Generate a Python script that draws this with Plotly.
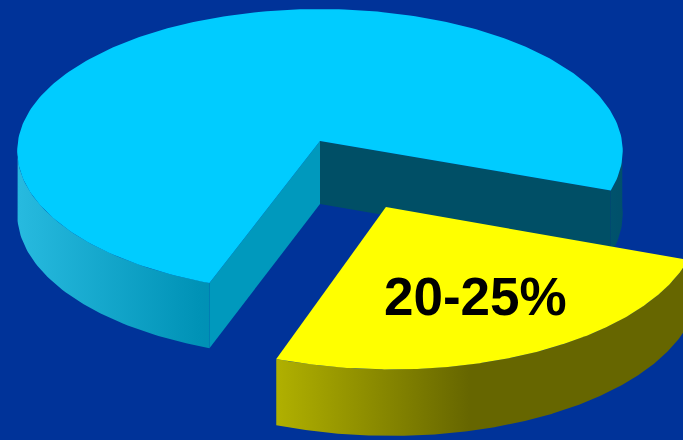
import numpy as np
import plotly.graph_objects as go

# ---- data ----
categories = ["Other", "Share"]
values = [75, 25]
labels = ["", "20-25%"]
explode = [0.0, 0.50]

# ---- styling / projection ----
BG = "#003399"
TOP_COLORS = ["#00CCFF", "#FFFF00"]
CUT_START_COLORS = ["#0099BD", "#999900"]
CUT_END_COLORS = ["#004F66", "#666600"]
SIDE_GRADIENTS = [
    dict(start=18, stop=625, colorscale=[[0, "#27BADF"], [0.3, "#0092B6"], [1, "#00506A"]]),
    dict(start=272, stop=683, colorscale=[[0, "#B2B200"], [0.48, "#666600"], [1, "#666600"]]),
]
CX, CY, RX, RY, K, H = 320, 141, 302, 141.2, 0.07, 63
START = 110.0  # degrees clockwise on screen


def proj(X, Z, down=False):
    s = 1.0 / (1.0 - K * Z)
    y = CY + RY * Z * s
    if down:
        y = y + H * np.sqrt(s)
    return CX + RX * X * s, y


fig = go.Figure()
total = float(sum(values))
angles = []
a = START
for v in values:
    span = 360.0 * v / total
    angles.append((a, a + span))
    a += span

text_items = []
for i, (a0, a1) in enumerate(angles):
    mid = np.radians((a0 + a1) / 2)
    ox, oz = explode[i] * np.cos(mid), explode[i] * np.sin(mid)
    th = np.radians(np.linspace(a0, a1, 240))
    X = ox + np.cos(th)
    Z = oz + np.sin(th)

    # visible rim segments (front-facing)
    vis = np.sin(th) >= -1e-9
    segs, cur = [], []
    for j in range(len(th)):
        if vis[j]:
            cur.append(j)
        elif cur:
            segs.append(cur)
            cur = []
    if cur:
        segs.append(cur)
    g = SIDE_GRADIENTS[i]
    for seg in segs:
        tx, ty = proj(X[seg], Z[seg])
        bx, by = proj(X[seg], Z[seg], True)
        fig.add_trace(go.Scatter(
            x=np.concatenate([tx, bx[::-1]]), y=np.concatenate([ty, by[::-1]]),
            mode="lines", fill="toself", line=dict(width=0),
            fillgradient=dict(type="horizontal", colorscale=g["colorscale"],
                              start=g["start"], stop=g["stop"]),
            hoverinfo="skip", showlegend=False))

    # cut faces (drawn only when facing the viewer)
    for ang, col, is_start in [(a0, CUT_START_COLORS[i], True), (a1, CUT_END_COLORS[i], False)]:
        r = np.radians(ang)
        nz = -np.cos(r) if is_start else np.cos(r)
        if nz <= 0:
            continue
        cx0, cy0 = proj(ox, oz)
        cbx, cby = proj(ox, oz, True)
        ex, ey = proj(ox + np.cos(r), oz + np.sin(r))
        ebx, eby = proj(ox + np.cos(r), oz + np.sin(r), True)
        fig.add_trace(go.Scatter(
            x=[cx0, ex, ebx, cbx, cx0], y=[cy0, ey, eby, cby, cy0],
            mode="lines", fill="toself", line=dict(width=0), fillcolor=col,
            hoverinfo="skip", showlegend=False))

    # top face
    tx, ty = proj(X, Z)
    cx0, cy0 = proj(ox, oz)
    fig.add_trace(go.Scatter(
        x=np.concatenate([[cx0], tx, [cx0]]), y=np.concatenate([[cy0], ty, [cy0]]),
        mode="lines", fill="toself", line=dict(width=0), fillcolor=TOP_COLORS[i],
        hoverinfo="skip", showlegend=False, name=categories[i]))

    if labels[i]:
        lx, ly = proj(ox + 0.63 * np.cos(mid), oz + 0.63 * np.sin(mid))
        text_items.append((lx, ly, labels[i]))

for lx, ly, t in text_items:
    fig.add_annotation(x=lx, y=ly, text=f"<b>{t}</b>", showarrow=False,
                       xanchor="center", yanchor="middle",
                       font=dict(family="Liberation Sans, Arial, sans-serif", size=53, color="#000000"))

fig.update_layout(
    width=683, height=440, margin=dict(l=0, r=0, t=0, b=0),
    paper_bgcolor=BG, plot_bgcolor=BG,
    xaxis=dict(range=[0, 683], visible=False, fixedrange=True),
    yaxis=dict(range=[440, 0], visible=False, fixedrange=True),
)
fig.write_html("out.html")
